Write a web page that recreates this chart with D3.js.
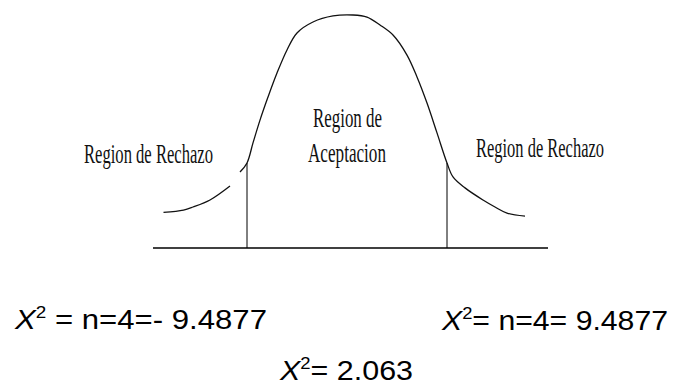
<!DOCTYPE html>
<html>
<head>
<meta charset="utf-8">
<script src="https://cdn.jsdelivr.net/npm/d3@7"></script>
<style>
  body { margin: 0; background: #fff; }
  svg { display: block; }
</style>
</head>
<body>
<svg id="chart"></svg>
<script>
// curva (z, altura relativa)
const curveX = [-3.67, -3.27, -3.08, -2.74, -2.34, -2.24, -2.14, -2.0, -1.88, -1.74, -1.58, -1.40, -1.20, -1.00, -0.68, -0.28,
                0.12, 0.40, 0.66, 0.92, 1.20, 1.40, 1.60, 1.80, 2.00, 2.12, 2.36, 2.72, 2.96, 3.20, 3.56];
const curveY = [0.153, 0.163, 0.176, 0.206, 0.266, null, 0.326, 0.365, 0.451, 0.549, 0.648, 0.751, 0.850, 0.923, 0.970, 0.996,
                1.0, 0.991, 0.957, 0.914, 0.828, 0.734, 0.622, 0.494, 0.365, 0.305, 0.258, 0.206, 0.176, 0.150, 0.137];
// valores criticos
const criticalX = [-2, 2];
const axisExtent = [-3.88, 4.02];

const regionLabels = ["Region de Rechazo", "Region de", "Aceptacion", "Region de Rechazo"];
const formulaRest = [" = n=4=- 9.4877", "= n=4= 9.4877", "= 2.063"];

const svgWidth = 680, svgHeight = 385;
const svg = d3.select("#chart")
    .attr("width", svgWidth)
    .attr("height", svgHeight);

const x = d3.scaleLinear().domain([-4, 4]).range([147, 547]);
const y = d3.scaleLinear().domain([0, 1]).range([248, 15]);

const points = curveX.map(function(d, i) { return { x: d, y: curveY[i] }; });

const line = d3.line()
    .defined(function(d) { return d.y !== null; })
    .x(function(d) { return x(d.x); })
    .y(function(d) { return y(d.y); })
    .curve(d3.curveCatmullRom);

// eje horizontal
svg.append("line")
    .attr("x1", x(axisExtent[0]))
    .attr("x2", x(axisExtent[1]))
    .attr("y1", y(0))
    .attr("y2", y(0))
    .attr("stroke", "#000")
    .attr("stroke-width", 1.6);

// lineas de los valores criticos, hasta la curva
svg.selectAll(".crit")
    .data(criticalX)
    .enter().append("line")
    .attr("class", "crit")
    .attr("x1", function(d) { return x(d); })
    .attr("x2", function(d) { return x(d); })
    .attr("y1", y(0))
    .attr("y2", function(d) {
        var p = points.find(function(q) { return q.x === d; });
        return y(p.y);
    })
    .attr("stroke", "#000")
    .attr("stroke-width", 1);

svg.append("path")
    .datum(points)
    .attr("fill", "none")
    .attr("stroke", "#111")
    .attr("stroke-width", 1.3)
    .attr("stroke-linejoin", "round")
    .attr("d", line);

// textos de las regiones
const labelPos = [
    { x: 84, y: 163, w: 129 },
    { x: 313, y: 127, w: 69 },
    { x: 308, y: 162, w: 78 },
    { x: 476, y: 157, w: 128 }
];
svg.selectAll(".region")
    .data(regionLabels)
    .enter().append("text")
    .attr("class", "region")
    .attr("x", function(d, i) { return labelPos[i].x; })
    .attr("y", function(d, i) { return labelPos[i].y; })
    .attr("textLength", function(d, i) { return labelPos[i].w; })
    .attr("lengthAdjust", "spacingAndGlyphs")
    .attr("font-family", "'Liberation Serif', 'DejaVu Serif', serif")
    .attr("font-size", 28)
    .attr("fill", "#111")
    .text(function(d) { return d; });

// formulas de abajo
const formulaPos = [
    { x: 15, y: 329, w: 252 },
    { x: 442, y: 330, w: 226 },
    { x: 280, y: 380, w: 133 }
];
const formulas = svg.selectAll(".formula")
    .data(formulaRest)
    .enter().append("text")
    .attr("class", "formula")
    .attr("x", function(d, i) { return formulaPos[i].x; })
    .attr("y", function(d, i) { return formulaPos[i].y; })
    .attr("textLength", function(d, i) { return formulaPos[i].w; })
    .attr("lengthAdjust", "spacingAndGlyphs")
    .attr("font-family", "'Liberation Sans', Arial, sans-serif")
    .attr("font-size", 28)
    .attr("fill", "#000");

formulas.append("tspan")
    .attr("font-style", "italic")
    .text("X");
formulas.append("tspan")
    .attr("font-size", 17)
    .attr("dy", -11)
    .text("2");
formulas.append("tspan")
    .attr("dy", 11)
    .text(function(d) { return d; });
</script>
</body>
</html>
